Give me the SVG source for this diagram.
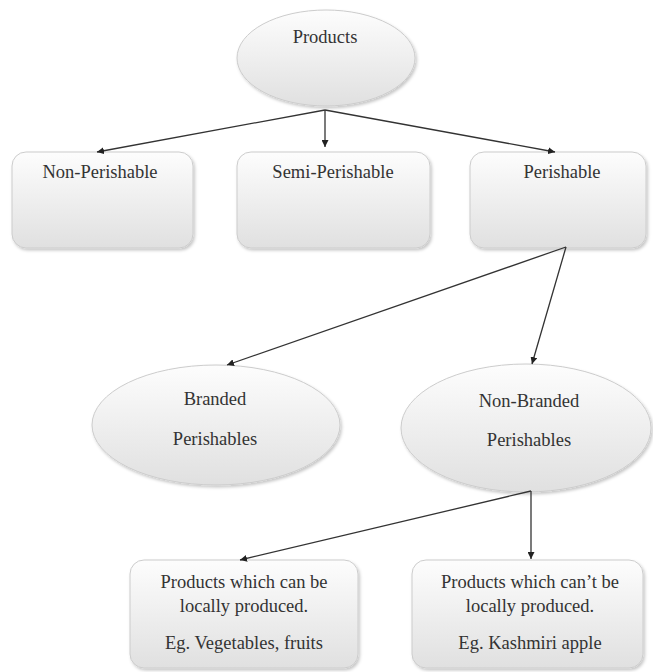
<svg xmlns="http://www.w3.org/2000/svg" width="653" height="672" viewBox="0 0 653 672">
  <style>
    .shape { fill: url(#grad); stroke: #cccccc; stroke-width: 1; filter: url(#shadow); }
    .lbl { font-size: 18.5px; fill: #333; text-anchor: middle; }
    .conn line { stroke: #333; stroke-width: 1.3; marker-end: url(#arrow); }
  </style>
  <defs>
    <linearGradient id="grad" x1="0" y1="0" x2="0" y2="1">
      <stop offset="0" stop-color="#fdfdfd"/>
      <stop offset="1" stop-color="#e0e0e0"/>
    </linearGradient>
    <filter id="shadow" x="-10%" y="-10%" width="125%" height="130%">
      <feDropShadow dx="1.5" dy="2" stdDeviation="1.5" flood-color="#000" flood-opacity="0.22"/>
    </filter>
    <marker id="arrow" viewBox="0 0 10 10" refX="10" refY="5" markerWidth="7" markerHeight="7" orient="auto" markerUnits="userSpaceOnUse">
      <path d="M0,0 L10,5 L0,10 z" fill="#222"/>
    </marker>
  </defs>
  <rect width="653" height="672" fill="#fff"/>

  <g font-family="'Liberation Serif', Tinos, 'Times New Roman', 'Noto Serif', 'DejaVu Serif', serif">
  <g id="products">
    <ellipse class="shape" cx="326" cy="58" rx="89" ry="48"/>
    <text class="lbl" x="325" y="43">Products</text>
  </g>

  <g id="non-perishable">
    <rect class="shape" x="12" y="152" width="181" height="96" rx="14"/>
    <text class="lbl" x="100" y="178">Non-Perishable</text>
  </g>
  <g id="semi-perishable">
    <rect class="shape" x="237" y="152" width="193" height="96" rx="14"/>
    <text class="lbl" x="333" y="178">Semi-Perishable</text>
  </g>
  <g id="perishable">
    <rect class="shape" x="470" y="152" width="176" height="96" rx="14"/>
    <text class="lbl" x="562" y="178">Perishable</text>
  </g>

  <g id="branded">
    <ellipse class="shape" cx="216" cy="425" rx="124" ry="60"/>
    <text class="lbl" x="215" y="405">Branded</text>
    <text class="lbl" x="215" y="445">Perishables</text>
  </g>
  <g id="non-branded">
    <ellipse class="shape" cx="526" cy="428" rx="125" ry="64"/>
    <text class="lbl" x="529" y="407">Non-Branded</text>
    <text class="lbl" x="529" y="446">Perishables</text>
  </g>

  <g id="local">
    <rect class="shape" x="130" y="560" width="228" height="108" rx="14"/>
    <text class="lbl" x="244" y="588">Products which can be</text>
    <text class="lbl" x="244" y="612">locally produced.</text>
    <text class="lbl" x="244" y="649">Eg. Vegetables, fruits</text>
  </g>
  <g id="nonlocal">
    <rect class="shape" x="412" y="560" width="231" height="108" rx="14"/>
    <text class="lbl" x="530" y="588">Products which can’t be</text>
    <text class="lbl" x="530" y="612">locally produced.</text>
    <text class="lbl" x="530" y="649">Eg. Kashmiri apple</text>
  </g>
  </g>

  <g id="connectors" class="conn">
    <line x1="325" y1="110" x2="97" y2="152"/>
    <line x1="325" y1="110" x2="325" y2="147"/>
    <line x1="325" y1="110" x2="555" y2="152"/>
    <line x1="566" y1="247" x2="227" y2="365"/>
    <line x1="566" y1="247" x2="532" y2="364"/>
    <line x1="531" y1="491" x2="240" y2="560"/>
    <line x1="531" y1="491" x2="531" y2="559"/>
  </g>
</svg>
